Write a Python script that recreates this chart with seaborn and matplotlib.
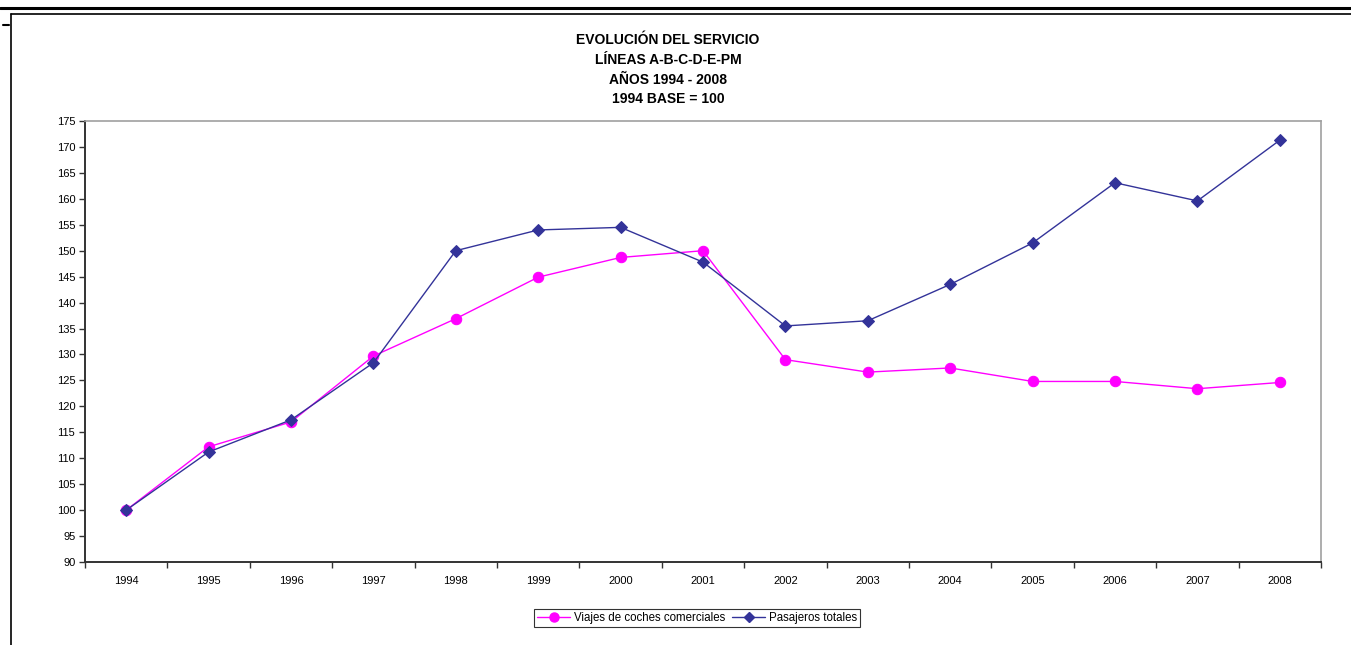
import pandas as pd
import seaborn as sns
import matplotlib.pyplot as plt
from matplotlib.lines import Line2D
from matplotlib.ticker import FixedLocator

years = [1994, 1995, 1996, 1997, 1998, 1999, 2000, 2001, 2002, 2003, 2004, 2005, 2006, 2007, 2008]
viajes = [100, 112.2, 117.0, 129.7, 136.9, 144.9, 148.7, 150.0, 129.0, 126.6, 127.4, 124.8, 124.8, 123.4, 124.6]
pasajeros = [100, 111.2, 117.4, 128.4, 150.0, 154.0, 154.5, 147.8, 135.5, 136.5, 143.5, 151.5, 163.1, 159.6, 171.3]
series_names = ['Viajes de coches comerciales', 'Pasajeros totales']
series_colors = ['#FF00FF', '#333399']
title_lines = ['EVOLUCIÓN DEL SERVICIO', 'LÍNEAS A-B-C-D-E-PM', 'AÑOS 1994 - 2008', '1994 BASE = 100']

if __name__ == "__main__":
    sns.set_style('white')
    plt.rcParams['font.family'] = ['Liberation Sans', 'DejaVu Sans']
    plt.rcParams['text.color'] = 'black'
    plt.rcParams['xtick.color'] = 'black'
    plt.rcParams['ytick.color'] = 'black'

    df = pd.DataFrame({'year': years + years,
                       'value': viajes + pasajeros,
                       'serie': [series_names[0]] * len(years) + [series_names[1]] * len(years)})

    fig = plt.figure(figsize=(13.51, 6.45), dpi=100)
    ax = fig.add_axes([85 / 1351, 1 - 562 / 645, (1321 - 85) / 1351, (562 - 121) / 645])

    sns.lineplot(data=df, x='year', y='value', hue='serie', style='serie',
                 hue_order=series_names, style_order=series_names,
                 palette=dict(zip(series_names, series_colors)),
                 markers={series_names[0]: 'o', series_names[1]: 'D'},
                 dashes=False, linewidth=1.0, ax=ax, legend=False)
    for line, c, ms in zip(ax.lines, series_colors, [7.5, 6.2]):
        line.set_markeredgecolor(c)
        line.set_markerfacecolor(c)
        line.set_markersize(ms)

    ax.set_xlim(years[0] - 0.5, years[-1] + 0.5)
    ax.set_ylim(90, 175)
    ax.set_yticks(range(90, 176, 5))
    ax.xaxis.set_major_locator(FixedLocator([y - 0.5 for y in years] + [years[-1] + 0.5]))
    ax.xaxis.set_major_formatter(plt.NullFormatter())
    ax.xaxis.set_minor_locator(FixedLocator(years))
    ax.set_xticklabels([str(y) for y in years], minor=True)
    ax.tick_params(axis='x', which='minor', length=0, pad=10, labelsize=8, labelcolor='black')
    ax.tick_params(axis='x', which='major', length=4, width=1, color='#333333', direction='out', bottom=True)
    ax.tick_params(axis='y', length=4, width=1, color='#333333', direction='out', left=True,
                   labelsize=8, pad=3, labelcolor='black')
    ax.set_xlabel('')
    ax.set_ylabel('')
    for s in ['left', 'bottom']:
        ax.spines[s].set_color('#333333')
        ax.spines[s].set_linewidth(1.4)
    for s in ['top', 'right']:
        ax.spines[s].set_color('#A0A0A0')
        ax.spines[s].set_linewidth(1.2)

    for i, t in enumerate(title_lines):
        fig.text(668 / 1351, 1 - (40.5 + 19.5 * i) / 645, t, ha='center', va='center',
                 fontsize=10, fontweight='bold', color='black')

    handles = [Line2D([], [], color=c, marker=m, markersize=ms, markeredgecolor=c, linewidth=1.0)
               for c, m, ms in zip(series_colors, ['o', 'D'], [6.5, 4.8])]
    leg = fig.legend(handles, series_names, loc='center', bbox_to_anchor=(697 / 1351, 1 - 618 / 645),
                     ncol=2, fontsize=8.3, frameon=True, fancybox=False, handlelength=2.9,
                     handletextpad=0.3, columnspacing=0.6, borderpad=0.25)
    leg.get_frame().set_edgecolor('black')
    leg.get_frame().set_linewidth(0.8)
    for txt in leg.get_texts():
        txt.set_color('black')

    # outer frame of the sheet
    fig.add_artist(Line2D([0, 1], [1 - 7.5 / 645, 1 - 7.5 / 645], color='black', linewidth=2.2))
    fig.add_artist(Line2D([11 / 1351, 1], [1 - 14 / 645, 1 - 14 / 645], color='black', linewidth=1.2))
    fig.add_artist(Line2D([11 / 1351, 11 / 1351], [0, 1 - 14 / 645], color='black', linewidth=1.2))
    fig.add_artist(Line2D([3 / 1351, 9 / 1351], [1 - 25 / 645, 1 - 25 / 645], color='black', linewidth=1.5))

    plt.savefig('out.png', dpi=100)
